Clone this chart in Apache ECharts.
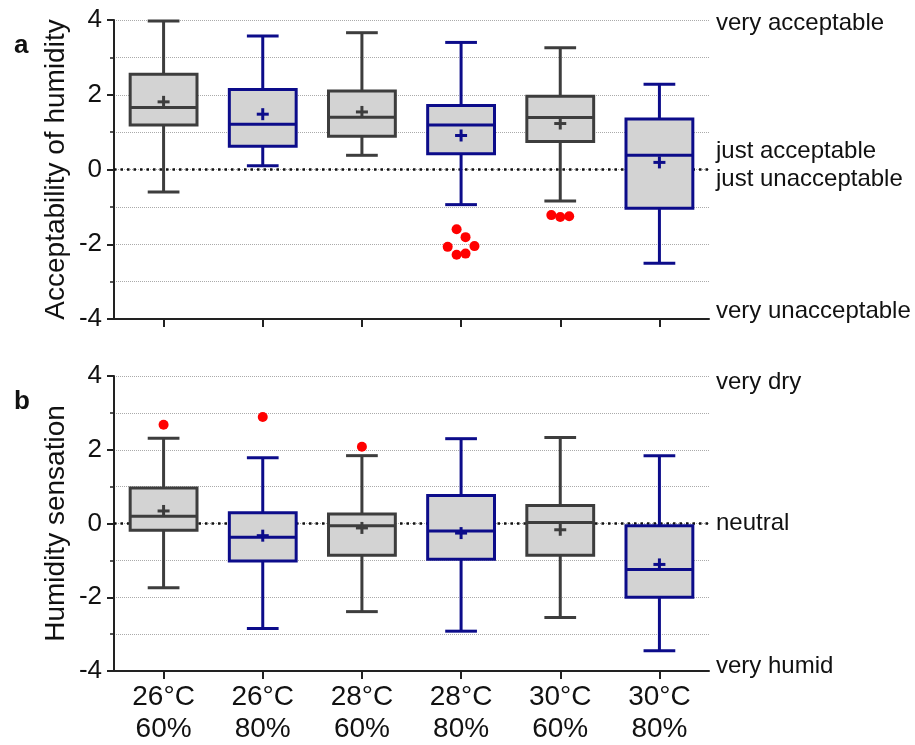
<!DOCTYPE html>
<html>
<head>
<meta charset="utf-8">
<script src="https://cdn.jsdelivr.net/npm/echarts@6/dist/echarts.min.js"></script>
<style>
  html, body { margin: 0; padding: 0; background: #fff; }
</style>
</head>
<body>
<div id="chart" style="width:915px;height:745px;"></div>
<script>
const categories = ['26°C\n60%', '26°C\n80%', '28°C\n60%', '28°C\n80%', '30°C\n60%', '30°C\n80%']

// a: acceptability of humidity
const accMin = [-0.60, 0.10, 0.38, -0.94, -0.84, -2.51]
const accQ1 = [1.19, 0.62, 0.89, 0.42, 0.75, -1.04]
const accMedian = [1.66, 1.21, 1.40, 1.19, 1.39, 0.38]
const accQ3 = [2.55, 2.14, 2.10, 1.71, 1.96, 1.35]
const accMax = [3.97, 3.57, 3.66, 3.40, 3.26, 2.28]
const accMean = [1.81, 1.48, 1.54, 0.91, 1.23, 0.19]
// [category index (with jitter), value]
const accOutliers = [[2.955, -1.60], [3.045, -1.81], [3.135, -2.05], [2.865, -2.07], [2.955, -2.28], [3.045, -2.25],
  [3.91, -1.22], [4.0, -1.27], [4.09, -1.25]]
const accScaleValues = [3.9, 0.1, -3.8]
const accScaleText = ['very acceptable', 'just acceptable\njust unacceptable', 'very unacceptable']

// b: humidity sensation
const senMin = [-1.74, -2.85, -2.39, -2.92, -2.55, -3.45]
const senQ1 = [-0.18, -1.02, -0.86, -0.97, -0.86, -2.00]
const senMedian = [0.20, -0.37, -0.06, -0.20, 0.03, -1.25]
const senQ3 = [0.96, 0.29, 0.26, 0.76, 0.49, -0.06]
const senMax = [2.31, 1.78, 1.84, 2.30, 2.33, 1.84]
const senMean = [0.34, -0.33, -0.12, -0.26, -0.17, -1.11]
const senOutliers = [[0, 2.68], [1, 2.89], [2, 2.08]]
const senScaleValues = [3.83, 0, -3.87]
const senScaleText = ['very dry', 'neutral', 'very humid']

const yTicks = { min: -4, max: 4, interval: 2 }

const boxColors = ['#3d3d3d', '#0c0c8a']
const boxFill = '#d3d3d3'
const font = 'Liberation Sans, Arial, sans-serif'

const buildRows = (mn, q1, med, q3, mx, mean) =>
  categories.map((c, i) => [i, mn[i], q1[i], med[i], q3[i], mx[i], mean[i]])

const renderBox = (params, api) => {
  const i = api.value(0)
  const color = boxColors[i % 2]
  const band = api.size([1, 0])[0]
  const half = band * 0.337
  const cap = band * 0.16
  const pMin = api.coord([i, api.value(1)])
  const pQ1 = api.coord([i, api.value(2)])
  const pMed = api.coord([i, api.value(3)])
  const pQ3 = api.coord([i, api.value(4)])
  const pMax = api.coord([i, api.value(5)])
  const pMean = api.coord([i, api.value(6)])
  const x = pMed[0]
  const stroke = { stroke: color, lineWidth: 3, fill: null }
  const line = (x1, y1, x2, y2) => ({ type: 'line', shape: { x1, y1, x2, y2 }, style: stroke })
  const m = 6
  return {
    type: 'group',
    children: [
      line(x, pMax[1], x, pQ3[1]),
      line(x, pQ1[1], x, pMin[1]),
      line(x - cap, pMax[1], x + cap, pMax[1]),
      line(x - cap, pMin[1], x + cap, pMin[1]),
      {
        type: 'rect',
        shape: { x: x - half, y: pQ3[1], width: half * 2, height: pQ1[1] - pQ3[1] },
        style: { fill: boxFill, stroke: color, lineWidth: 3 }
      },
      line(x - half, pMed[1], x + half, pMed[1]),
      line(x - m, pMean[1], x + m, pMean[1]),
      line(x, pMean[1] - m, x, pMean[1] + m)
    ]
  }
}

const leftAxis = (gridIndex, name) => ({
  type: 'value',
  gridIndex,
  position: 'left',
  min: yTicks.min,
  max: yTicks.max,
  interval: yTicks.interval,
  name,
  nameLocation: 'middle',
  nameGap: 44,
  nameMoveOverlap: false,
  nameTextStyle: { fontSize: 28, color: '#111', fontFamily: font },
  axisLine: { show: true, onZero: false, lineStyle: { color: '#222', width: 2 } },
  axisTick: { show: true, length: 7, lineStyle: { color: '#222', width: 2 } },
  minorTick: { show: true, splitNumber: 2, length: 4, lineStyle: { color: '#222', width: 1.5 } },
  axisLabel: { fontSize: 26, color: '#111', margin: 12, fontFamily: font },
  splitLine: { show: true, lineStyle: { color: '#aaa', type: 'dotted', width: 1 } },
  minorSplitLine: { show: true, lineStyle: { color: '#aaa', type: 'dotted', width: 1 } }
})

const rightAxis = (gridIndex, values, texts) => ({
  type: 'value',
  gridIndex,
  position: 'right',
  min: yTicks.min,
  max: yTicks.max,
  axisLine: { show: false, onZero: false },
  axisTick: { show: false },
  splitLine: { show: false },
  axisLabel: {
    customValues: values,
    margin: 7,
    fontSize: 24,
    lineHeight: 28,
    color: '#111',
    fontFamily: font,
    formatter: v => texts[values.indexOf(v)] || ''
  }
})

const catAxis = (gridIndex, showLabel) => ({
  type: 'category',
  gridIndex,
  data: categories,
  boundaryGap: true,
  axisLine: { show: true, onZero: false, lineStyle: { color: '#222', width: 2 } },
  axisTick: { show: true, alignWithLabel: true, length: 8, lineStyle: { color: '#222', width: 2 } },
  axisLabel: { show: showLabel, fontSize: 28, lineHeight: 32, color: '#111', margin: 10, fontFamily: font }
})

const hiddenX = (gridIndex) => ({
  type: 'value', gridIndex, min: -0.5, max: 5.5, show: false
})

const chart = echarts.init(document.getElementById('chart'))

chart.setOption({
  animation: false,
  backgroundColor: '#fff',
  title: [
    { text: 'a', left: 9, top: 28, textStyle: { fontSize: 26, fontWeight: 'bold', color: '#111', fontFamily: font } },
    { text: 'b', left: 9, top: 384, textStyle: { fontSize: 26, fontWeight: 'bold', color: '#111', fontFamily: font } }
  ],
  grid: [
    { left: 114, top: 20, width: 595, height: 299 },
    { left: 114, top: 376, width: 595, height: 299 }
  ],
  xAxis: [catAxis(0, false), catAxis(1, true), hiddenX(0), hiddenX(1)],
  yAxis: [
    leftAxis(0, 'Acceptability of humidity'),
    rightAxis(0, accScaleValues, accScaleText),
    leftAxis(1, 'Humidity sensation'),
    rightAxis(1, senScaleValues, senScaleText)
  ],
  series: [
    {
      type: 'line', xAxisIndex: 2, yAxisIndex: 0, z: 1, symbol: 'none', silent: true,
      data: [[-0.5, 0], [5.5, 0]],
      lineStyle: { color: '#111', width: 2.5, type: [2.5, 4] }
    },
    {
      type: 'line', xAxisIndex: 3, yAxisIndex: 2, z: 1, symbol: 'none', silent: true,
      data: [[-0.5, 0], [5.5, 0]],
      lineStyle: { color: '#111', width: 2.5, type: [2.5, 4] }
    },
    {
      type: 'custom', xAxisIndex: 0, yAxisIndex: 0, z: 3,
      renderItem: renderBox,
      encode: { x: 0, y: [1, 2, 3, 4, 5, 6] },
      data: buildRows(accMin, accQ1, accMedian, accQ3, accMax, accMean)
    },
    {
      type: 'custom', xAxisIndex: 1, yAxisIndex: 2, z: 3,
      renderItem: renderBox,
      encode: { x: 0, y: [1, 2, 3, 4, 5, 6] },
      data: buildRows(senMin, senQ1, senMedian, senQ3, senMax, senMean)
    },
    {
      type: 'scatter', xAxisIndex: 2, yAxisIndex: 0, z: 4,
      symbolSize: 10, itemStyle: { color: '#ff0000', opacity: 1 },
      data: accOutliers
    },
    {
      type: 'scatter', xAxisIndex: 3, yAxisIndex: 2, z: 4,
      symbolSize: 10, itemStyle: { color: '#ff0000', opacity: 1 },
      data: senOutliers
    }
  ]
})
</script>
</body>
</html>
